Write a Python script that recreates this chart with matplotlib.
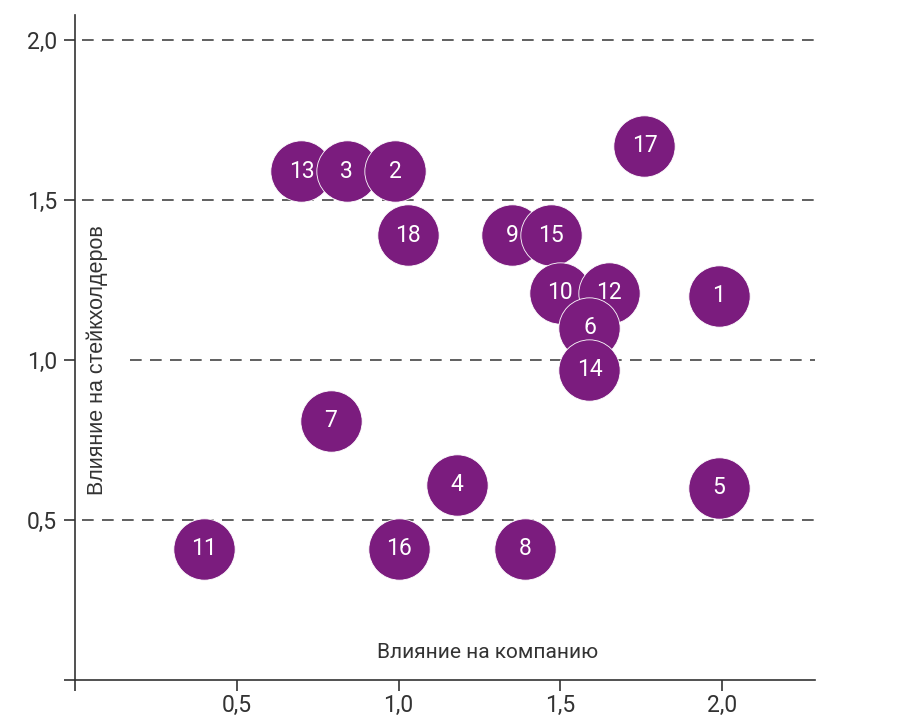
import numpy as np
import matplotlib.pyplot as plt
from matplotlib.ticker import FixedLocator

# bubble labels, listed in drawing order (later ones sit on top)
labels = ['13', '3', '2', '17', '18', '9', '15', '10', '12', '1',
          '6', '14', '7', '4', '5', '11', '16', '8']
company = [0.70, 0.84, 0.99, 1.76, 1.03, 1.35, 1.47, 1.50, 1.65, 1.99,
           1.59, 1.59, 0.79, 1.18, 1.99, 0.40, 1.00, 1.39]
stakeholders = [1.59, 1.59, 1.59, 1.67, 1.39, 1.39, 1.39, 1.21, 1.21, 1.20,
                1.10, 0.97, 0.81, 0.61, 0.60, 0.41, 0.41, 0.41]

tick_vals = [0, 0.5, 1.0, 1.5, 2.0]
tick_text = ['', '0,5', '1,0', '1,5', '2,0']

purple = '#7b1c7e'

fig = plt.figure(figsize=(9.08, 7.2), dpi=100)
ax = fig.add_axes([75 / 908, 40 / 720, 740 / 908, 665 / 720])
ax.set_xlim(0, 2.287)
ax.set_ylim(0, 2.078)

# dashed reference lines; the 1,0 line leaves room for the y label
for v in [0.5, 1.5, 2.0]:
    ax.axhline(v, xmin=0.01, color='#444444', lw=1.2, ls=(0, (7, 5)), zorder=1)
ax.plot([0.17, 2.287], [1.0, 1.0], color='#444444', lw=1.2, ls=(0, (7, 5)), zorder=1)

for lb, x, y in zip(labels, company, stakeholders):
    ax.scatter(x, y, s=1950, color=purple, edgecolors='white', linewidths=0.6, zorder=3)
    ax.text(x, y, lb, color='white', fontsize=16.5, family='Roboto',
            ha='center', va='center', zorder=4)

ax.xaxis.set_major_locator(FixedLocator(tick_vals))
ax.yaxis.set_major_locator(FixedLocator(tick_vals))
ax.set_xticklabels(tick_text)
ax.set_yticklabels(tick_text)
for t in ax.get_xticklabels() + ax.get_yticklabels():
    t.set_family('Roboto')
    t.set_fontsize(16.5)
    t.set_color('#333333')
ax.tick_params(axis='both', length=8, width=1.2, color='#333333', pad=5)
ax.tick_params(axis='x', pad=2)

for side in ['top', 'right']:
    ax.spines[side].set_visible(False)
for side in ['left', 'bottom']:
    ax.spines[side].set_color('#333333')
    ax.spines[side].set_linewidth(1.2)

ax.text(0.07, 1.0, 'Влияние на стейкхолдеров', rotation=90, family='Liberation Sans',
        fontsize=15.5, color='#333333', ha='center', va='center')
ax.text(1.275, 0.085, 'Влияние на компанию', family='Roboto', fontsize=15,
        color='#333333', ha='center', va='center')

fig.savefig('out.png', dpi=100)
